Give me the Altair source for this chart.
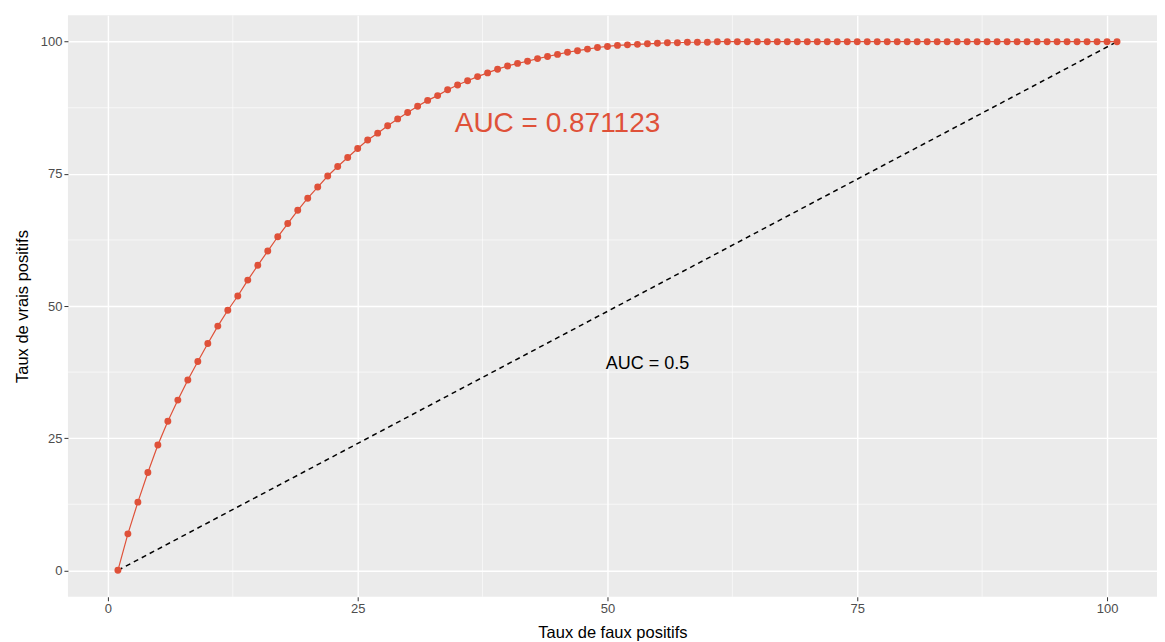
import altair as alt
import pandas as pd

# ROC curve (x = taux de faux positifs, y = taux de vrais positifs)
fpr = list(range(1, 102))
tpr = [0, 6.9, 12.9, 18.5, 23.7, 28.2, 32.2, 36.0, 39.5, 42.9,
       46.2, 49.2, 51.9, 54.9, 57.7, 60.4, 63.1, 65.6, 68.1, 70.4,
       72.5, 74.6, 76.4, 78.1, 79.8, 81.4, 82.7, 84.1, 85.4, 86.6,
       87.8, 88.9, 89.8, 90.9, 91.8, 92.6, 93.4, 94.1, 94.8, 95.4,
       95.9, 96.3, 96.8, 97.2, 97.6, 98.0, 98.3, 98.6, 98.9, 99.1,
       99.3, 99.4, 99.5, 99.6, 99.7, 99.8, 99.8, 99.9, 99.9, 99.9] + [100] * 41

diag_x = [1, 101]
diag_y = [0, 100]

labels = ["AUC = 0.871123", "AUC = 0.5"]
label_x = [45, 54]
label_y = [84.5, 39]

ticks = [0, 25, 50, 75, 100]
minor = [12.5, 37.5, 62.5, 87.5]

RED = "#DF5139"
FONT = "Liberation Sans"

roc = pd.DataFrame({"x": fpr, "y": tpr})
diag = pd.DataFrame({"x": diag_x, "y": diag_y})
minor_df = pd.DataFrame({"v": minor})

xs = alt.Scale(domain=[-4, 105], nice=False, zero=False)
ys = alt.Scale(domain=[-5, 105], nice=False, zero=False)

xax = alt.Axis(values=ticks, title="Taux de faux positifs", grid=True)
yax = alt.Axis(values=ticks, title="Taux de vrais positifs", grid=True)

minor_v = alt.Chart(minor_df).mark_rule(color="white", strokeWidth=0.6).encode(
    x=alt.X("v:Q", scale=xs, axis=xax)
)
minor_h = alt.Chart(minor_df).mark_rule(color="white", strokeWidth=0.6).encode(
    y=alt.Y("v:Q", scale=ys, axis=yax)
)

line = alt.Chart(roc).mark_line(color=RED, strokeWidth=1.2).encode(
    x=alt.X("x:Q", scale=xs, axis=xax),
    y=alt.Y("y:Q", scale=ys, axis=yax),
)
pts = alt.Chart(roc).mark_circle(color=RED, size=48, opacity=1).encode(
    x=alt.X("x:Q", scale=xs, axis=xax),
    y=alt.Y("y:Q", scale=ys, axis=yax),
)
dline = alt.Chart(diag).mark_line(color="black", strokeWidth=1.5, strokeDash=[5, 4]).encode(
    x=alt.X("x:Q", scale=xs, axis=xax),
    y=alt.Y("y:Q", scale=ys, axis=yax),
)

t1 = alt.Chart(pd.DataFrame({"x": [label_x[0]], "y": [label_y[0]], "t": [labels[0]]})).mark_text(
    color=RED, fontSize=28, font=FONT, align="center", baseline="middle"
).encode(x=alt.X("x:Q", scale=xs, axis=xax), y=alt.Y("y:Q", scale=ys, axis=yax), text="t:N")
t2 = alt.Chart(pd.DataFrame({"x": [label_x[1]], "y": [label_y[1]], "t": [labels[1]]})).mark_text(
    color="black", fontSize=18, font=FONT, align="center", baseline="middle"
).encode(x=alt.X("x:Q", scale=xs, axis=xax), y=alt.Y("y:Q", scale=ys, axis=yax), text="t:N")

chart = alt.layer(minor_v, minor_h, dline, line, pts, t1, t2).properties(
    width=1090, height=582,
    autosize=alt.AutoSizeParams(type="none"),
    padding={"left": 60, "top": 7, "right": 0, "bottom": 46},
).configure_view(
    fill="#EBEBEB", stroke=None
).configure_axis(
    gridColor="white", gridWidth=1.4, domain=False,
    tickColor="#333333", tickSize=4, tickWidth=1,
    labelColor="#4D4D4D", labelFont=FONT, labelFontSize=13, labelPadding=2,
    titleFont=FONT, titleFontSize=16.5, titleFontWeight="normal", titleColor="black",
).configure_axisX(titlePadding=9).configure_axisY(titlePadding=10)

chart.save("out.html", embed_options={"renderer": "svg", "actions": False})
